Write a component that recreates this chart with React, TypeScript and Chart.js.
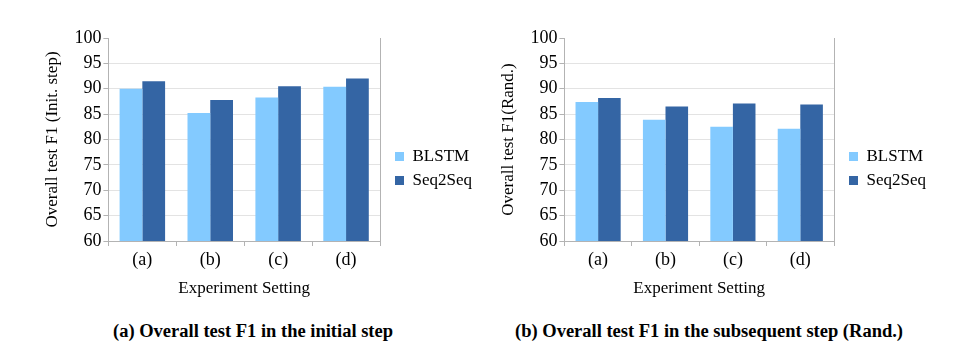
import React, { useEffect, useRef } from "react";
import { Chart, registerables } from "chart.js";

Chart.register(...registerables);

const categories = ["(a)", "(b)", "(c)", "(d)"];
const seriesNames = ["BLSTM", "Seq2Seq"];
const initBLSTM = [90.0, 85.2, 88.3, 90.4];
const initSeq2Seq = [91.5, 87.8, 90.5, 92.0];
const randBLSTM = [87.4, 83.9, 82.5, 82.1];
const randSeq2Seq = [88.2, 86.5, 87.1, 86.9];
const yTicks = [60, 65, 70, 75, 80, 85, 90, 95, 100];
const leftTitle = "Overall test F1 (Init. step)";
const rightTitle = "Overall test F1(Rand.)";
const xTitle = "Experiment Setting";
const captionA = "(a) Overall test F1 in the initial step";
const captionB = "(b) Overall test F1 in the subsequent step (Rand.)";

const FONT = "'Liberation Serif', 'Times New Roman', serif";
const LIGHT = "#83CAFF";
const DARK = "#3465A4";
const GRID = "#e3e3e3";
const AXIS = "#b3b3b3";

const borderPlugin = {
  id: "rightBorder",
  afterDatasetsDraw(chart: any) {
    const { ctx, chartArea } = chart;
    ctx.save();
    ctx.strokeStyle = AXIS;
    ctx.lineWidth = 1;
    ctx.beginPath();
    ctx.moveTo(Math.round(chartArea.right) + 0.5, chartArea.top);
    ctx.lineTo(Math.round(chartArea.right) + 0.5, chartArea.bottom);
    ctx.stroke();
    ctx.restore();
  },
};

function BarChart({ a, b, yTitle, width }: { a: number[]; b: number[]; yTitle: string; width: number }) {
  const ref = useRef<HTMLCanvasElement>(null);
  useEffect(() => {
    if (!ref.current) return;
    const chart = new Chart(ref.current, {
      type: "bar",
      data: {
        labels: categories,
        datasets: [
          { label: seriesNames[0], data: a, backgroundColor: LIGHT, categoryPercentage: 0.67, barPercentage: 1.0 },
          { label: seriesNames[1], data: b, backgroundColor: DARK, categoryPercentage: 0.67, barPercentage: 1.0 },
        ],
      },
      options: {
        animation: false,
        responsive: false,
        maintainAspectRatio: false,
        layout: { padding: { left: 40, top: 38, right: 4, bottom: 1 } },
        plugins: {
          tooltip: { enabled: false },
          legend: {
            position: "right",
            maxWidth: 200,
            labels: {
              boxWidth: 9,
              boxHeight: 9,
              padding: 7,
              color: "#000",
              font: { family: FONT, size: 17 },
            },
          },
        },
        scales: {
          x: {
            grid: { display: true, drawOnChartArea: false, color: AXIS, tickLength: 5, offset: true },
            border: { color: AXIS },
            ticks: { color: "#000", font: { family: FONT, size: 18 }, padding: 3 },
            title: { display: true, text: xTitle, color: "#000", font: { family: FONT, size: 17 }, padding: { top: 5, bottom: 0 } },
          },
          y: {
            min: 60,
            max: 100,
            afterBuildTicks(scale: any) {
              scale.ticks = yTicks.map((v) => ({ value: v }));
            },
            grid: {
              color: (c: any) => (c.tick && c.tick.value === 100 ? "rgba(0,0,0,0)" : GRID),
              tickColor: AXIS,
              tickLength: 5,
            },
            border: { color: AXIS },
            ticks: { color: "#000", font: { family: FONT, size: 18 }, padding: 2 },
            title: { display: true, text: yTitle, color: "#000", font: { family: FONT, size: 17 }, padding: { top: 2, bottom: 10 } },
          },
          spacer: {
            type: "linear",
            position: "right",
            display: true,
            grid: { display: false, drawTicks: false },
            border: { display: false },
            ticks: { display: false },
            afterFit(scale: any) {
              scale.width = 8;
            },
          },
        },
      },
      plugins: [borderPlugin],
    });
    return () => chart.destroy();
  }, [a, b, yTitle, width]);
  return <canvas ref={ref} width={width} height={300} style={{ display: "block", width, height: 300 }} />;
}

export default function App() {
  return (
    <div style={{ position: "fixed", left: 0, top: 0, width: 967, height: 354, background: "#fff" }}>
      <div style={{ position: "absolute", left: 0, top: 0 }}>
        <BarChart a={initBLSTM} b={initSeq2Seq} yTitle={leftTitle} width={486} />
      </div>
      <div style={{ position: "absolute", left: 456, top: 0 }}>
        <BarChart a={randBLSTM} b={randSeq2Seq} yTitle={rightTitle} width={484} />
      </div>
      <div style={{ position: "absolute", left: 0, width: 506, top: 321, textAlign: "center", fontFamily: FONT, fontWeight: "bold", fontSize: 18.5 }}>
        {captionA}
      </div>
      <div style={{ position: "absolute", left: 458, width: 502, top: 321, textAlign: "center", fontFamily: FONT, fontWeight: "bold", fontSize: 18.5 }}>
        {captionB}
      </div>
    </div>
  );
}
